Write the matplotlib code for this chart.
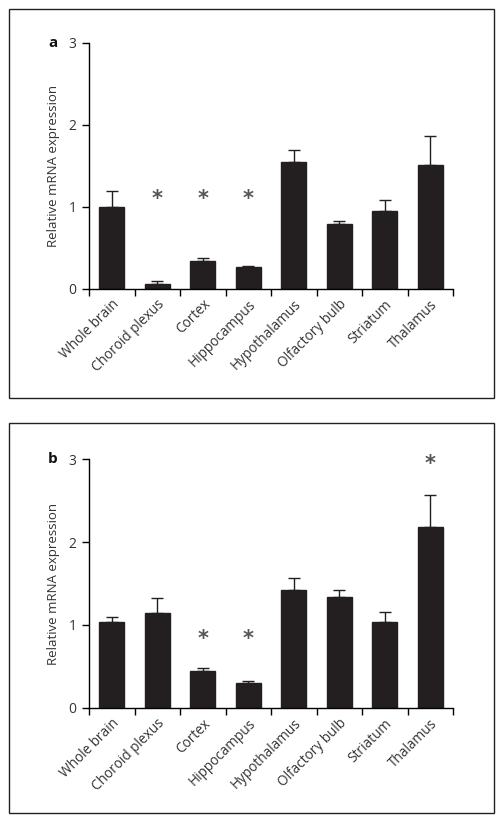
import numpy as np
import matplotlib
matplotlib.use("Agg")
import matplotlib.pyplot as plt
from matplotlib.patches import Rectangle

# ─────────────────────────────────────────────
# Data
# ─────────────────────────────────────────────

REGIONS = ["Whole brain", "Choroid plexus", "Cortex", "Hippocampus",
           "Hypothalamus", "Olfactory bulb", "Striatum", "Thalamus"]

MEAN_A = [1.00, 0.06, 0.34, 0.26, 1.54, 0.79, 0.95, 1.51]
ERR_A  = [0.19, 0.03, 0.04, 0.02, 0.15, 0.04, 0.13, 0.35]
STAR_A = [None, 1.09, 1.09, 1.09, None, None, None, None]

MEAN_B = [1.03, 1.14, 0.44, 0.30, 1.42, 1.34, 1.04, 2.18]
ERR_B  = [0.07, 0.19, 0.04, 0.02, 0.15, 0.08, 0.11, 0.39]
STAR_B = [None, None, 0.83, 0.83, None, None, None, 2.94]

YTICKS = [0, 1, 2, 3]

# ─────────────────────────────────────────────
# Style
# ─────────────────────────────────────────────

plt.rcParams['font.family'] = ['Open Sans', 'DejaVu Sans']
BAR_COLOR  = "#231f20"
TEXT_COLOR = "#333333"
BAR_WIDTH  = 0.55


def draw_panel(fig, rect, box, letter, means, errs, stars):
    # outer frame around the panel
    fig.patches.append(Rectangle((box[0], box[1]), box[2], box[3],
                                 transform=fig.transFigure, fill=False,
                                 edgecolor="#222222", linewidth=1.0))

    ax = fig.add_axes(rect)
    x = np.arange(len(REGIONS))
    ax.bar(x, means, width=BAR_WIDTH, color=BAR_COLOR, edgecolor=BAR_COLOR,
           zorder=2)
    ax.errorbar(x, means, yerr=[np.zeros(len(errs)), errs], fmt="none",
                ecolor=BAR_COLOR, elinewidth=1.0, capsize=4, capthick=1.0,
                zorder=1)

    for xi, s in zip(x, stars):
        if s is not None:
            ax.text(xi, s, "*", ha="center", va="center", fontsize=15,
                    color="#555555", family="DejaVu Sans", fontweight="bold")

    ax.set_xlim(-0.5, len(REGIONS) - 0.5)
    ax.set_ylim(0, 3)
    ax.spines['top'].set_visible(False)
    ax.spines['right'].set_visible(False)
    ax.spines['left'].set_linewidth(1.0)
    ax.spines['bottom'].set_linewidth(1.0)

    ax.set_yticks(YTICKS)
    ax.set_yticklabels([str(t) for t in YTICKS], fontsize=10, color=TEXT_COLOR)
    ax.tick_params(axis='y', length=5, width=1.0, pad=4)

    # tick marks between categories, labels at category centres
    ax.set_xticks(np.arange(-0.5, len(REGIONS)), minor=True)
    ax.set_xticks(x)
    ax.set_xticklabels(REGIONS, rotation=45, ha="right",
                       rotation_mode="anchor", fontsize=9.8, color=TEXT_COLOR)
    ax.tick_params(axis='x', which='major', length=0, pad=6)
    ax.tick_params(axis='x', which='minor', length=5, width=1.0)

    ax.set_ylabel("Relative mRNA expression", fontsize=9.5, color=TEXT_COLOR,
                  labelpad=6)
    ax.text(-0.10, 1.0, letter, transform=ax.transAxes, fontsize=11,
            fontweight="bold", ha="center", va="center", color="#111111")
    return ax


fig = plt.figure(figsize=(5.03, 8.21), dpi=100, facecolor="white")

draw_panel(fig, [0.177, 0.6484, 0.7237, 0.2996],
           (0.0179, 0.5152, 0.964, 0.4738), "a", MEAN_A, ERR_A, STAR_A)
draw_panel(fig, [0.177, 0.138, 0.7237, 0.3026],
           (0.0179, 0.0097, 0.964, 0.475), "b", MEAN_B, ERR_B, STAR_B)

plt.savefig("out.png", dpi=100, facecolor="white")
plt.close()
